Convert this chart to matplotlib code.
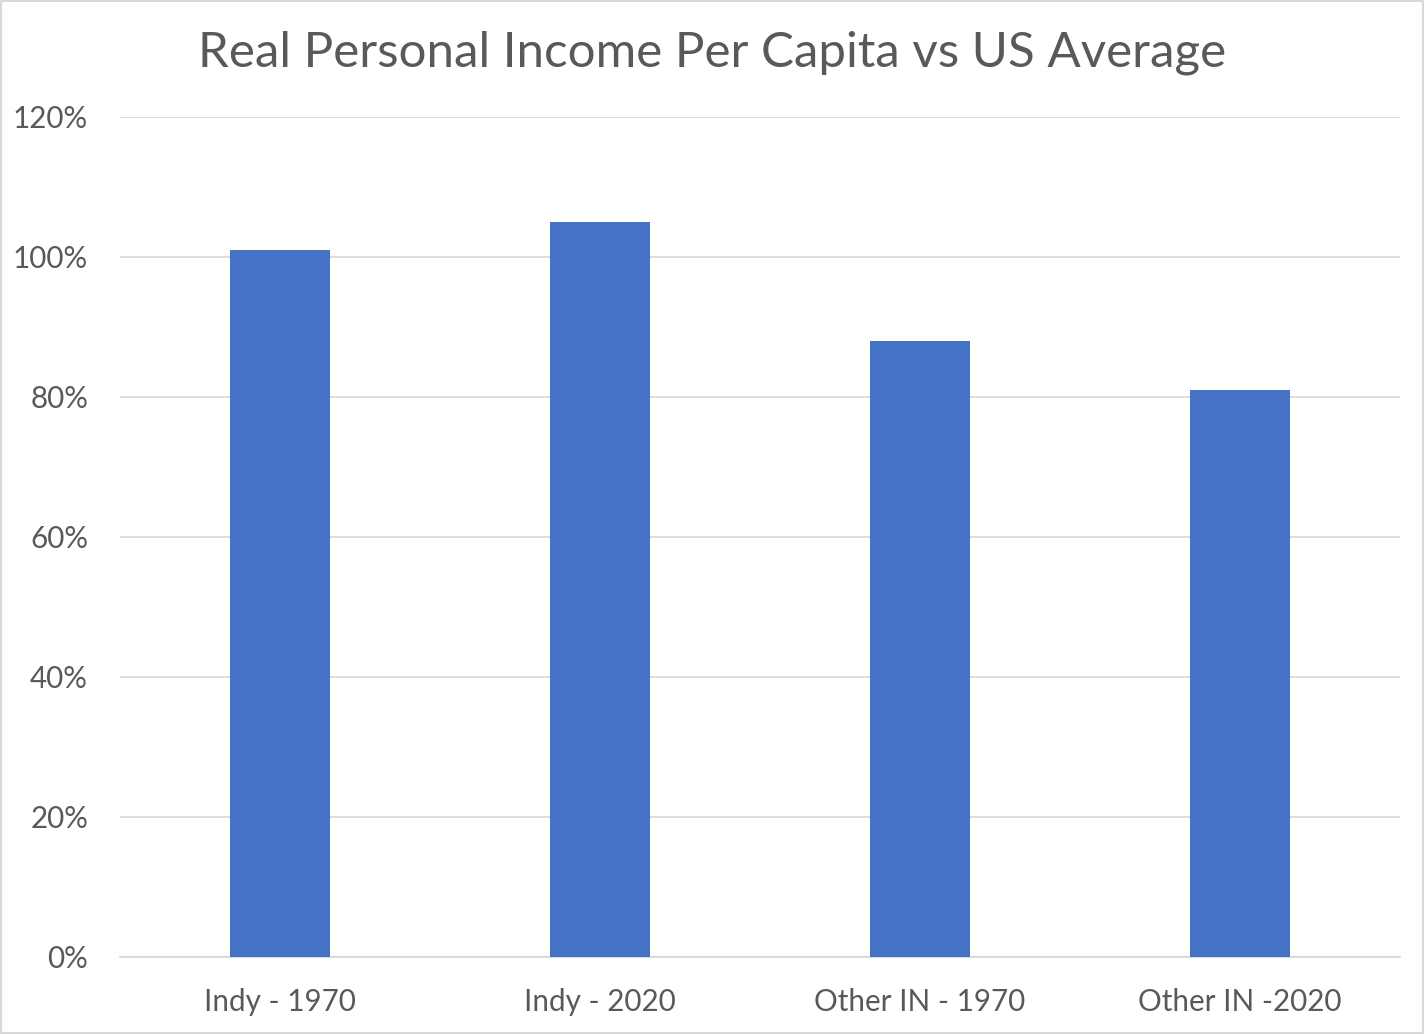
import matplotlib.pyplot as plt
from matplotlib.patches import Rectangle
from matplotlib.ticker import PercentFormatter

# data
categories = ["Indy - 1970", "Indy - 2020", "Other IN - 1970", "Other IN -2020"]
values = [101, 105, 88, 81]
yticks = [0, 20, 40, 60, 80, 100, 120]

text_color = "#595959"
plt.rcParams['font.family'] = ['Lato', 'DejaVu Sans']

fig = plt.figure(figsize=(14.24, 10.34), dpi=100)
ax = fig.add_axes([120 / 1424, 77 / 1034, 1280 / 1424, 840 / 1034])

x = range(len(categories))
ax.bar(x, values, width=0.3125, color="#4472C4", zorder=3)

ax.set_xlim(-0.5, len(categories) - 0.5)
ax.set_ylim(0, 120)
ax.set_yticks(yticks)
ax.yaxis.set_major_formatter(PercentFormatter(decimals=0))
ax.set_xticks(list(x))
ax.set_xticklabels(categories)

ax.grid(axis='y', color="#D9D9D9", linewidth=1.3, zorder=0)
for side in ['top', 'right', 'left']:
    ax.spines[side].set_visible(False)
ax.spines['bottom'].set_color("#D9D9D9")
ax.spines['bottom'].set_linewidth(1.3)
ax.tick_params(axis='both', length=0, labelsize=21.3, colors=text_color)
ax.tick_params(axis='x', pad=22)
ax.tick_params(axis='y', pad=23)

fig.text(0.5, 0.949, "Real Personal Income Per Capita vs US Average",
         ha='center', va='center', fontsize=35.5, color=text_color)

# light border round the chart area
fig.patches.append(Rectangle((0.001, 0.001), 0.998, 0.998, transform=fig.transFigure,
                             fill=False, edgecolor="#D9D9D9", linewidth=1.5))

fig.savefig("out.png", dpi=100)
